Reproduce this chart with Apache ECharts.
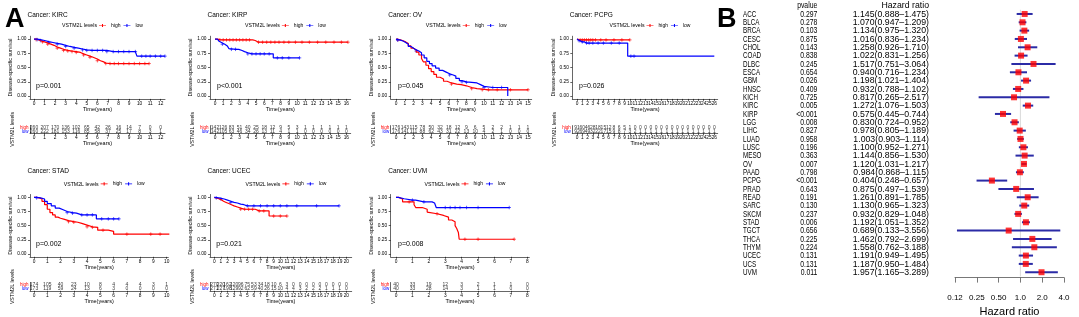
<!DOCTYPE html>
<html>
<head>
<meta charset="utf-8">
<script src="https://cdn.jsdelivr.net/npm/echarts@6/dist/echarts.min.js"></script>
<style>
html, body { margin: 0; padding: 0; background: #fff; }
#main { width: 1079px; height: 317px; }
</style>
</head>
<body>
<div id="main"></div>
<script>
// KM curves: [time, survival, censored (1)]
const kircHigh = [[0,1],[0.2,0.99,1],[0.4,0.975],[0.6,0.96],[0.8,0.95,1],[1,0.93],[1.3,0.91,1],[1.6,0.89],[1.9,0.86],[2.2,0.84,1],[2.5,0.82],[2.8,0.8,1],[3.2,0.79,1],[3.6,0.78,1],[4.0,0.765,1],[4.4,0.74],[4.7,0.72,1],[5.0,0.7],[5.3,0.68,1],[5.6,0.65],[6.0,0.62,1],[6.3,0.6],[6.6,0.58],[6.8,0.57,1],[7.2,0.57,1],[7.6,0.57,1],[8.0,0.57,1],[8.5,0.57,1],[9.0,0.57,1],[9.5,0.57,1],[10.0,0.57,1],[10.5,0.57,1],[10.9,0.57,1]];
const kircLow = [[0,1],[0.3,0.99,1],[0.6,0.975,1],[1,0.955],[1.4,0.94,1],[1.8,0.925],[2.2,0.91,1],[2.6,0.89],[3.0,0.87,1],[3.4,0.855],[3.8,0.84,1],[4.2,0.825],[4.6,0.81,1],[5.0,0.8,1],[5.5,0.8,1],[6.0,0.8,1],[6.5,0.8,1],[6.9,0.78,1],[7.5,0.78,1],[8.0,0.78,1],[8.5,0.78,1],[9.0,0.78,1],[9.6,0.78,1],[9.75,0.7],[10.2,0.7,1],[10.6,0.7,1],[11.0,0.7,1],[11.5,0.7,1],[12.0,0.7,1],[12.4,0.7,1]];
const kirpHigh = [[0,1],[0.3,0.99],[0.6,0.985,1],[1,0.985,1],[1.4,0.985,1],[1.8,0.985,1],[2.2,0.985,1],[2.6,0.985,1],[3.0,0.985,1],[3.4,0.985,1],[3.8,0.985,1],[4.2,0.985,1],[4.6,0.975],[4.9,0.945],[5.3,0.945,1],[5.8,0.945,1],[6.3,0.945,1],[6.8,0.945,1],[7.3,0.945,1],[7.8,0.945,1],[8.4,0.945,1],[9.0,0.945,1],[9.8,0.945,1],[10.6,0.945,1],[11.5,0.945,1],[12.5,0.945,1],[13.5,0.945,1],[14.5,0.945,1],[15.4,0.945,1],[16.2,0.945,1]];
const kirpLow = [[0,1],[0.3,0.98],[0.5,0.96],[0.7,0.93],[0.9,0.91,1],[1.2,0.88],[1.5,0.86],[1.7,0.83],[2.0,0.82,1],[2.5,0.82,1],[2.9,0.8],[3.3,0.78],[3.6,0.76],[4.0,0.74,1],[4.5,0.74,1],[5.0,0.74,1],[5.5,0.74,1],[6.0,0.74,1],[6.6,0.74,1],[7.1,0.67],[7.6,0.67,1],[8.2,0.67,1],[9.0,0.67,1],[10.3,0.67,1]];
const ovHigh = [[0,1],[0.2,0.985,1],[0.5,0.97],[0.8,0.95],[1.1,0.92],[1.4,0.88],[1.7,0.84],[2.0,0.81],[2.3,0.77],[2.6,0.72],[2.9,0.66],[3.1,0.6],[3.4,0.54],[3.7,0.48],[4.0,0.43],[4.3,0.38],[4.6,0.33],[5.0,0.3],[5.4,0.26],[5.8,0.23],[6.3,0.21,1],[6.9,0.2],[7.4,0.18],[8.0,0.15],[8.6,0.13,1],[9.2,0.12],[9.8,0.11,1],[10.5,0.11,1],[11.5,0.11,1],[13.0,0.11,1],[15.0,0.11,1]];
const ovLow = [[0,1],[0.2,0.98,1],[0.5,0.965],[0.8,0.94],[1.1,0.91],[1.4,0.87],[1.7,0.84],[2.0,0.81],[2.3,0.79,1],[2.6,0.76],[2.9,0.72],[3.2,0.67],[3.5,0.61],[3.8,0.57],[4.1,0.53],[4.5,0.49],[4.9,0.45],[5.3,0.42],[5.7,0.39],[6.1,0.37,1],[6.5,0.35],[6.8,0.31],[7.2,0.27],[7.5,0.25,1],[8.0,0.24,1],[8.6,0.23],[9.2,0.2],[9.6,0.17],[10.0,0.15,1],[11.0,0.15,1],[12.0,0.15,1],[12.7,0.0]];
const pcpgHigh = [[0,1],[0.3,0.985],[0.6,0.985,1],[1.0,0.985,1],[1.4,0.985,1],[1.8,0.985,1],[2.2,0.985,1],[2.6,0.985,1],[3.0,0.985,1],[3.5,0.985,1],[4.5,0.985,1],[5.5,0.985,1],[7.0,0.985,1],[8.5,0.985,1],[10.0,0.985,1]];
const pcpgLow = [[0,1],[0.2,0.98],[0.4,0.97,1],[0.7,0.95],[1.0,0.95,1],[1.4,0.93],[1.8,0.93,1],[2.3,0.93,1],[3.0,0.93,1],[4.0,0.93,1],[5.0,0.93,1],[6.5,0.93,1],[8.0,0.93,1],[9.6,0.7],[10.2,0.7,1],[10.8,0.7,1],[26,0.7]];
const stadHigh = [[0,1],[0.2,0.99],[0.4,0.97],[0.6,0.93],[0.8,0.87],[1.0,0.79],[1.2,0.73],[1.4,0.69],[1.6,0.65],[1.8,0.63],[2.0,0.61],[2.3,0.59],[2.6,0.57,1],[3.0,0.56,1],[3.3,0.54],[3.6,0.51],[4.0,0.48,1],[4.4,0.47,1],[4.8,0.42],[5.2,0.42,1],[5.6,0.4],[6.0,0.35],[7.0,0.35,1],[8.8,0.35,1],[9.5,0.35,1],[10.2,0.35,1]];
const stadLow = [[0,1],[0.2,0.99,1],[0.5,0.97],[0.8,0.93],[1.0,0.89],[1.3,0.85],[1.6,0.81],[1.9,0.78],[2.2,0.75],[2.5,0.73,1],[2.9,0.72,1],[3.2,0.69],[3.6,0.69,1],[4.0,0.69,1],[4.4,0.69,1],[4.7,0.62],[5.1,0.62,1],[5.6,0.62,1],[6.0,0.62,1],[6.4,0.62,1]];
const ucecHigh = [[0,1],[0.3,0.98],[0.6,0.96],[1.0,0.93],[1.4,0.91],[1.8,0.89],[2.2,0.87],[2.6,0.85],[3.0,0.83],[3.5,0.81],[4.0,0.79,1],[4.6,0.79,1],[5.2,0.79,1],[5.8,0.79,1],[6.2,0.76],[6.8,0.76,1],[7.5,0.76,1],[8.3,0.67],[9.0,0.67,1],[10.0,0.67,1],[11.0,0.67,1]];
const ucecLow = [[0,1],[0.3,0.99,1],[0.7,0.98],[1.0,0.97,1],[1.5,0.95],[2.0,0.93],[2.5,0.91,1],[3.0,0.9],[3.5,0.88],[4.0,0.87],[4.5,0.85],[5.0,0.85,1],[6.0,0.85,1],[7.0,0.85,1],[8.0,0.85,1],[9.0,0.85,1],[10.0,0.85,1],[11.0,0.85,1],[12.5,0.85,1],[15.5,0.85,1],[18.9,0.85,1]];
const uvmHigh = [[0,1],[0.15,0.97],[0.4,0.92],[0.8,0.92,1],[1.1,0.87],[1.2,0.82],[1.6,0.79],[1.9,0.74],[2.0,0.71],[2.5,0.71,1],[2.6,0.68],[2.9,0.65],[3.2,0.6],[3.4,0.57],[3.6,0.5],[3.7,0.45],[3.8,0.38],[3.85,0.26],[4.2,0.26,1],[5.0,0.26,1],[7.2,0.26,1]];
const uvmLow = [[0,1],[0.15,0.975],[0.5,0.95],[1.0,0.95,1],[1.2,0.92],[1.7,0.92,1],[2.2,0.9],[2.35,0.87],[2.45,0.82],[3.0,0.82,1],[3.3,0.82,1],[3.6,0.82,1],[3.9,0.82,1],[4.3,0.82,1],[5.0,0.82,1],[6.9,0.82,1]];

// numbers at risk, one per year from 0
const kircRiskHigh = [260,207,170,136,102,65,42,26,16,14,7,0,0];
const kircRiskLow = [260,222,181,153,116,85,58,37,25,17,8,3,1];
const kirpRiskHigh = [142,126,83,51,40,25,18,12,9,5,3,1,1,1,1,1,1];
const kirpRiskLow = [142,105,63,46,34,26,13,11,4,1,1,0,0,0,0,0,0];
const ovRiskHigh = [176,143,115,78,50,32,18,12,9,6,5,2,2,1,1,1];
const ovRiskLow = [176,141,111,88,62,43,31,22,13,10,4,2,1,0,0,0];
const pcpgRiskHigh = [91,60,46,28,18,15,12,8,6,5,1,0,0,0,0,0,0,0,0,0,0,0,0,0,0,0,0];
const pcpgRiskLow = [92,69,49,32,22,17,15,9,8,7,3,2,1,1,1,1,1,1,1,1,1,1,1,1,1,1,1];
const stadRiskHigh = [174,105,40,23,10,8,4,4,4,3,1];
const stadRiskLow = [173,119,59,24,13,6,3,0,0,0,0];
const ucecRiskHigh = [270,220,162,120,96,75,53,34,18,10,6,3,0,0,0,0,0,0,0,0,0];
const ucecRiskLow = [271,227,198,129,92,62,59,40,26,15,10,4,4,3,2,2,2,1,1,1,0];
const uvmRiskHigh = [40,33,19,12,3,2,1,1,0];
const uvmRiskLow = [40,33,28,14,3,1,1,0,0];

const kmCancers = ['KIRC', 'KIRP', 'OV', 'PCPG', 'STAD', 'UCEC', 'UVM'];
const kmPvalues = ['p=0.001', 'p<0.001', 'p=0.045', 'p=0.026', 'p=0.002', 'p=0.021', 'p=0.008'];

// forest plot
const cancers = ['ACC','BLCA','BRCA','CESC','CHOL','COAD','DLBC','ESCA','GBM','HNSC','KICH','KIRC','KIRP','LGG','LIHC','LUAD','LUSC','MESO','OV','PAAD','PCPG','PRAD','READ','SARC','SKCM','STAD','TGCT','THCA','THYM','UCEC','UCS','UVM'];
const pvals = ['0.297','0.278','0.103','0.875','0.143','0.838','0.245','0.654','0.026','0.409','0.725','0.005','<0.001','0.008','0.827','0.958','0.196','0.363','0.007','0.798','<0.001','0.643','0.191','0.130','0.237','0.006','0.656','0.225','0.224','0.131','0.131','0.011'];
const hr = [1.145,1.070,1.134,1.016,1.258,1.022,1.517,0.940,1.198,0.932,0.817,1.272,0.575,0.830,0.978,1.003,1.100,1.144,1.120,0.984,0.404,0.875,1.261,1.130,0.932,1.192,0.689,1.462,1.558,1.191,1.187,1.957];
const hrLow = [0.888,0.947,0.975,0.836,0.926,0.831,0.751,0.716,1.021,0.788,0.265,1.076,0.445,0.724,0.805,0.903,0.952,0.856,1.031,0.868,0.248,0.497,0.891,0.965,0.829,1.051,0.133,0.792,0.762,0.949,0.950,1.165];
const hrHigh = [1.475,1.209,1.320,1.234,1.710,1.256,3.064,1.234,1.404,1.102,2.517,1.503,0.744,0.952,1.189,1.114,1.271,1.530,1.217,1.115,0.657,1.539,1.785,1.323,1.048,1.352,3.556,2.699,3.188,1.495,1.484,3.289];
const hrTickLabels = { 0.125: '0.12', 0.25: '0.25', 0.5: '0.50', 1: '1.0', 2: '2.0', 4: '4.0' };

const FONT = '"Liberation Sans", Arial, Helvetica, sans-serif';
const RED = '#ff0000', BLUE = '#0000ff';
const PLUS = 'path://M0,5L10,5M5,0L5,10';
const LEGEND_ICON = 'path://M0,4H20V6H0ZM8.5,0.5H11.5V9.5H8.5Z';

const curves = [[kircHigh, kircLow], [kirpHigh, kirpLow], [ovHigh, ovLow], [pcpgHigh, pcpgLow], [stadHigh, stadLow], [ucecHigh, ucecLow], [uvmHigh, uvmLow]];
const risks = [[kircRiskHigh, kircRiskLow], [kirpRiskHigh, kirpRiskLow], [ovRiskHigh, ovRiskLow], [pcpgRiskHigh, pcpgRiskLow], [stadRiskHigh, stadRiskLow], [ucecRiskHigh, ucecRiskLow], [uvmRiskHigh, uvmRiskLow]];
// pixel layout of each KM panel
const boxes = [
  { row: 0, axisX: 30, t0: 34, tEnd: 160.7, right: 165 },
  { row: 0, axisX: 210, t0: 215, tEnd: 346.3, right: 350.7 },
  { row: 0, axisX: 390.7, t0: 396, tEnd: 528, right: 531.7 },
  { row: 0, axisX: 572.3, t0: 577, tEnd: 714.3, right: 717.7 },
  { row: 1, axisX: 30, t0: 34, tEnd: 166.7, right: 168.3 },
  { row: 1, axisX: 210, t0: 214.3, tEnd: 346.3, right: 351.7 },
  { row: 1, axisX: 390.7, t0: 396, tEnd: 527.3, right: 529.3 }
];
const rows = [
  { title: 15, legend: 26, plotTop: 36.2, plotBottom: 98.9, riskTop: 125.6, riskBottom: 133.2, lblGap: 2, nameGap: 7, rLblGap: 1.5, rNameGap: 7.2 },
  { title: 171, legend: 184.3, plotTop: 194.5, plotBottom: 256.8, riskTop: 282.5, riskBottom: 290.8, lblGap: 2, nameGap: 7.3, rLblGap: 2.2, rNameGap: 8 }
];

const black = { color: '#000', width: 0.6 };

function timeAxis(gi, min, max, ticks, margin, nameGap) {
  return {
    gridIndex: gi, type: 'value', min: min, max: max,
    splitLine: { show: false },
    axisLine: { show: true, onZero: false, lineStyle: black },
    axisTick: { show: true, customValues: ticks, length: 2, lineStyle: black },
    axisLabel: { customValues: ticks, fontSize: 4.8, color: '#000', margin: margin, fontFamily: FONT },
    name: 'Time(years)', nameLocation: 'middle', nameGap: nameGap,
    nameTextStyle: { fontSize: 5.5, color: '#000', fontFamily: FONT }
  };
}

const grids = [], xAxes = [], yAxes = [], legends = [], series = [];

kmCancers.forEach((c, i) => {
  const b = boxes[i], r = rows[b.row];
  const [rHigh, rLow] = risks[i];
  const ticks = rHigh.map((_, j) => j);
  const tmax = ticks.length - 1;
  const k = (b.tEnd - b.t0) / tmax;
  const xMin = -(b.t0 - b.axisX) / k;
  const xMax = tmax + (b.right - b.tEnd) / k;
  const gi = grids.length;
  const w = b.right - b.axisX;

  grids.push({ left: b.axisX, top: r.plotTop, width: w, height: r.plotBottom - r.plotTop, outerBoundsMode: 'none' });
  grids.push({ left: b.axisX, top: r.riskTop, width: w, height: r.riskBottom - r.riskTop, outerBoundsMode: 'none' });

  xAxes.push(timeAxis(gi, xMin, xMax, ticks, r.lblGap, r.nameGap));
  xAxes.push(timeAxis(gi + 1, xMin, xMax, ticks, r.rLblGap, r.rNameGap));

  yAxes.push({
    gridIndex: gi, type: 'value', min: -0.05, max: 1.05,
    splitLine: { show: false },
    axisLine: { show: true, onZero: false, lineStyle: black },
    axisTick: { show: true, customValues: [0, 0.25, 0.5, 0.75, 1], length: 2, lineStyle: black },
    axisLabel: { customValues: [0, 0.25, 0.5, 0.75, 1], formatter: v => v.toFixed(2), fontSize: 4.8, color: '#000', margin: 3.5, fontFamily: FONT },
    name: 'Disease-specific survival', nameLocation: 'middle', nameGap: 15,
    nameTextStyle: { fontSize: 5.3, color: '#000', fontFamily: FONT }
  });
  yAxes.push({
    gridIndex: gi + 1, type: 'category', data: ['high', 'low'], inverse: true,
    axisLine: { show: true, onZero: false, lineStyle: black },
    axisTick: { show: false },
    axisLabel: {
      interval: 0, margin: 1.5, formatter: v => '{' + v + '|' + v + '}',
      rich: { high: { color: RED, fontSize: 4.5, fontFamily: FONT }, low: { color: BLUE, fontSize: 4.5, fontFamily: FONT } }
    },
    name: 'VSTM2L levels', nameLocation: 'middle', nameGap: 15,
    nameTextStyle: { fontSize: 5.2, color: '#000', fontFamily: FONT }
  });

  [['high', curves[i][0], RED], ['low', curves[i][1], BLUE]].forEach(([nm, pts, col]) => {
    series.push({
      type: 'line', name: nm, xAxisIndex: gi, yAxisIndex: gi, step: 'end',
      symbol: 'none', showSymbol: false, silent: true,
      lineStyle: { color: col, width: 1.2 }, itemStyle: { color: col },
      data: pts.map(d => [d[0], d[1]])
    });
    series.push({
      type: 'scatter', name: nm, xAxisIndex: gi, yAxisIndex: gi, silent: true,
      symbol: PLUS, symbolSize: 3.5,
      itemStyle: { color: col, borderColor: col, borderWidth: 0.8 },
      data: pts.filter(d => d[2]).map(d => [d[0], d[1]])
    });
  });

  // numbers at risk as labels on the table grid
  series.push({
    type: 'scatter', xAxisIndex: gi + 1, yAxisIndex: gi + 1, silent: true,
    symbolSize: 1, itemStyle: { color: 'rgba(0,0,0,0)' },
    label: { show: true, position: 'inside', formatter: q => q.value[2], fontSize: 5, color: '#000', fontFamily: FONT },
    data: rHigh.map((n, j) => [j, 'high', n]).concat(rLow.map((n, j) => [j, 'low', n]))
  });

  const cx = (b.axisX + b.right) / 2;
  legends.push({
    left: cx + 1.5, top: r.legend - 3, padding: 0, itemWidth: 7, itemHeight: 4, itemGap: 3,
    icon: LEGEND_ICON, selectedMode: false,
    textStyle: { fontSize: 5, color: '#000', fontFamily: FONT },
    data: ['high', 'low']
  });
});

// forest plot grid
const fi = grids.length;
grids.push({ left: 955, right: 15, top: 9.8, height: 266.6, outerBoundsMode: 'none' });
xAxes.push({
  gridIndex: fi, type: 'log', logBase: 2, min: 0.125, max: 4,
  splitLine: { show: false }, offset: 1.2,
  axisLine: { show: true, onZero: false, lineStyle: { color: '#555', width: 0.8 } },
  axisTick: { show: true, length: 5, lineStyle: { color: '#555', width: 0.8 } },
  axisLabel: { formatter: v => hrTickLabels[v] || '', fontSize: 8, color: '#000', margin: 16, fontFamily: FONT },
  name: 'Hazard ratio', nameLocation: 'middle', nameGap: 25,
  nameTextStyle: { fontSize: 11, color: '#000', fontFamily: FONT }
});
yAxes.push({ gridIndex: fi, type: 'category', data: cancers, inverse: true, axisLine: { show: false }, axisTick: { show: false }, axisLabel: { show: false } });

// reference line at HR = 1
series.push({
  type: 'custom', xAxisIndex: fi, yAxisIndex: fi, silent: true, z: 1,
  data: [[1, 0]],
  renderItem: (params, api) => {
    const cs = params.coordSys;
    const x = api.coord([api.value(0), api.value(1)])[0];
    return { type: 'line', shape: { x1: x, y1: cs.y, x2: x, y2: cs.y + cs.height }, style: { stroke: '#c8c8c8', lineWidth: 0.7 } };
  }
});
// confidence intervals
series.push({
  type: 'custom', xAxisIndex: fi, yAxisIndex: fi, silent: true, z: 2,
  data: cancers.map((c, i) => [hrLow[i], i, hrHigh[i]]),
  renderItem: (params, api) => {
    const a = api.coord([api.value(0), api.value(1)]);
    const b = api.coord([api.value(2), api.value(1)]);
    return { type: 'line', shape: { x1: a[0], y1: a[1], x2: b[0], y2: b[1] }, style: { stroke: '#2b2ba6', lineWidth: 2 } };
  }
});
series.push({
  type: 'scatter', xAxisIndex: fi, yAxisIndex: fi, silent: true, z: 5,
  symbol: 'rect', symbolSize: 6, itemStyle: { color: RED },
  data: cancers.map((c, i) => [hr[i], i])
});

const chart = echarts.init(document.getElementById('main'));
chart.setOption({
  animation: false,
  backgroundColor: '#fff',
  textStyle: { fontFamily: FONT },
  grid: grids, xAxis: xAxes, yAxis: yAxes, legend: legends, series: series
});

function txt(x, y, s, size, align, extra) {
  return Object.assign({
    type: 'text', x: x, y: y, silent: true,
    style: { text: s, fontSize: size, fontFamily: FONT, fill: '#000', align: align, verticalAlign: 'middle' }
  }, extra || {});
}
const graphics = [];
graphics.push({ type: 'text', x: 5, y: 20, silent: true, style: { text: 'A', fontSize: 27, fontWeight: 'bold', fontFamily: FONT, fill: '#000', align: 'left', verticalAlign: 'middle' } });
graphics.push({ type: 'text', x: 717, y: 20, silent: true, style: { text: 'B', fontSize: 27, fontWeight: 'bold', fontFamily: FONT, fill: '#000', align: 'left', verticalAlign: 'middle' } });

kmCancers.forEach((c, i) => {
  const b = boxes[i], r = rows[b.row];
  const cx = (b.axisX + b.right) / 2;
  graphics.push(txt(b.axisX - 2.5, r.title, 'Cancer: ' + c, 6.5, 'left'));
  graphics.push(txt(cx - 0.5, r.legend, 'VSTM2L levels', 5.2, 'right'));
  const pp = chart.convertToPixel({ xAxisIndex: i * 2, yAxisIndex: i * 2 }, [0, 0.18]);
  graphics.push(txt(pp[0] + 2, pp[1], kmPvalues[i], 7, 'left'));
});

// forest text columns follow the category rows
const ys = cancers.map((c, i) => chart.convertToPixel({ yAxisIndex: fi }, i));
const step = ys[1] - ys[0];
const hrText = cancers.map((c, i) => hr[i].toFixed(3) + '(' + hrLow[i].toFixed(3) + '\u2013' + hrHigh[i].toFixed(3) + ')');
graphics.push(txt(817.3, ys[0] - step, 'pvalue', 9.5, 'right', { scaleX: 0.72 }));
graphics.push(txt(929, ys[0] - step, 'Hazard ratio', 9.5, 'right', { scaleX: 0.92 }));
cancers.forEach((c, i) => {
  graphics.push(txt(743, ys[i], c, 9.5, 'left', { scaleX: 0.66 }));
  graphics.push(txt(817.3, ys[i], pvals[i], 9.5, 'right', { scaleX: 0.72 }));
  graphics.push(txt(929, ys[i], hrText[i], 9.5, 'right', { scaleX: 0.92 }));
});

chart.setOption({ graphic: graphics });
</script>
</body>
</html>
